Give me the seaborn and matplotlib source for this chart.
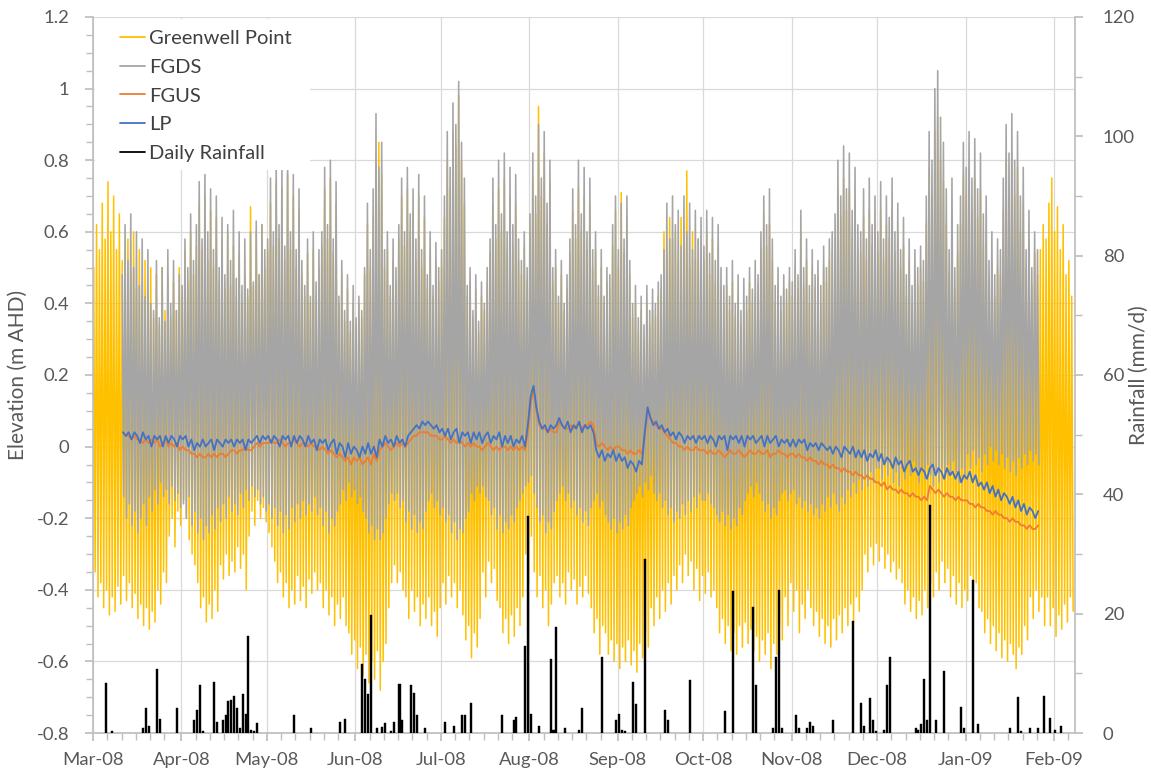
import numpy as np
import pandas as pd
import matplotlib
matplotlib.use("Agg")
import matplotlib.pyplot as plt
import matplotlib.dates as mdates
from matplotlib.ticker import MultipleLocator, FuncFormatter
from matplotlib.lines import Line2D
from matplotlib.patches import Rectangle
import seaborn as sns

sns.set_theme(style="white")
plt.rcParams["font.family"] = ["Lato", "DejaVu Sans"]

# ---------------- data ----------------
START = "2008-03-01"
months = ["2008-03-01", "2008-04-01", "2008-05-01", "2008-06-01", "2008-07-01", "2008-08-01",
          "2008-09-01", "2008-10-01", "2008-11-01", "2008-12-01", "2009-01-01", "2009-02-01"]

# Greenwell Point tide: daily high / low water (cm AHD), one list per month
gp_hi = [
    [50,62,55,68,58,74,60,70,55,65,52,45,58,48,60,44,55,42,52,40,50,36,48,34,50,38,48,36,46,38,50],
    [42,55,46,60,48,56,68,55,70,52,66,50,64,46,58,44,60,45,56,42,54,40,48,42,67,45,60,48,62,50],
    [55,68,56,74,58,72,52,76,55,70,50,66,48,42,54,40,55,42,50,56,72,58,75,54,68,40,48,35,44,32,40],
    [34,40,36,48,62,50,64,72,85,76,50,55,42,52,46,58,70,56,72,60,66,52,70,50,64,44,55,42,52,46],
    [50,64,80,72,88,84,98,80,68,42,46,36,44,32,42,38,46,54,68,58,72,60,75,55,70,56,68,52,48,56,46],
    [60,75,65,95,70,82,62,74,46,50,40,48,38,44,54,66,58,72,60,70,55,68,50,55,42,50,40,46,44,56,66],
    [50,71,54,64,48,36,40,32,38,30,40,34,38,36,42,44,60,54,64,58,60,52,64,55,77,50,60,52,58,50],
    [52,60,48,58,46,56,44,40,45,38,46,36,42,34,40,38,46,40,42,45,55,65,56,62,52,40,45,38,44,40,46],
    [42,50,44,60,45,52,40,50,44,48,40,50,46,52,55,58,72,64,75,66,72,58,68,55,54,64,52,66,56,62],
    [54,66,52,62,58,66,54,60,50,56,42,52,40,48,45,50,46,62,78,70,88,92,80,74,62,48,66,44,54,62,76],
    [70,78,66,75,64,72,56,60,46,52,42,50,48,66,80,72,82,70,78,60,68,50,56,45,54,48,55,62,58,68,75],
    [60,67,55,62,48,52,42],
]
gp_lo = [
    [-35,-42,-38,-45,-40,-47,-42,-46,-39,-44,-36,-43,-38,-45,-41,-48,-44,-50,-45,-51,-46,-49,-40,-44,-35,-38,-25,-20,-28,-18,-22],
    [-15,-20,-26,-30,-33,-38,-45,-42,-49,-44,-48,-40,-46,-33,-37,-30,-36,-32,-35,-28,-34,-30,-40,-25,-18,-22,-15,-20,-17,-21],
    [-24,-28,-32,-38,-35,-42,-38,-45,-40,-44,-36,-43,-39,-45,-37,-41,-35,-40,-38,-45,-40,-47,-42,-50,-44,-48,-42,-50,-52,-58,-54],
    [-62,-56,-64,-58,-66,-60,-65,-57,-68,-60,-55,-45,-38,-33,-38,-35,-40,-42,-48,-40,-46,-42,-50,-44,-48,-42,-50,-46,-53,-45],
    [-38,-44,-36,-42,-38,-45,-40,-47,-54,-50,-59,-52,-56,-48,-35,-42,-32,-38,-34,-43,-45,-52,-48,-55,-47,-53,-45,-50,-42,-30,-38],
    [-25,-35,-42,-36,-45,-40,-50,-44,-38,-36,-42,-38,-44,-35,-40,-37,-44,-39,-42,-36,-41,-45,-52,-48,-58,-50,-52,-58,-54,-60,-55],
    [-62,-56,-60,-54,-61,-57,-63,-55,-59,-52,-56,-45,-50,-42,-48,-40,-46,-38,-44,-36,-40,-33,-38,-30,-36,-32,-40,-34,-43,-36],
    [-41,-35,-42,-40,-45,-52,-48,-55,-50,-57,-52,-58,-50,-56,-49,-55,-51,-57,-53,-60,-54,-58,-52,-62,-55,-58,-50,-54,-42,-50,-38],
    [-46,-40,-52,-44,-48,-40,-45,-50,-46,-53,-48,-55,-50,-56,-48,-54,-47,-52,-45,-50,-44,-49,-42,-46,-40,-30,-35,-28,-33,-27],
    [-32,-28,-34,-30,-35,-32,-37,-34,-38,-44,-40,-46,-42,-48,-43,-47,-40,-45,-38,-42,-35,-40,-32,-38,-34,-42,-36,-44,-38,-45,-40],
    [-43,-36,-41,-38,-45,-46,-52,-48,-55,-50,-57,-52,-59,-54,-60,-55,-58,-62,-56,-58,-50,-54,-42,-48,-40,-46,-42,-50,-42,-50,-45],
    [-53,-47,-51,-44,-49,-42,-46],
]

# FGDS / FGUS / LP records (start 11 Mar 2008), one list per month
site_starts = ["2008-03-11", "2008-04-01", "2008-05-01", "2008-06-01", "2008-07-01", "2008-08-01",
               "2008-09-01", "2008-10-01", "2008-11-01", "2008-12-01", "2009-01-01"]
fgds_hi = [
    [48,62,52,65,50,60,45,58,42,55,40,38,52,36,50,35,55,40,52,38,48],
    [45,58,50,65,52,62,74,58,76,60,72,55,70,50,64,48,62,52,66,47,60,45,58,44,60,46,63,48,62,55],
    [58,75,60,80,62,78,56,82,60,76,55,72,52,45,58,42,60,46,55,60,78,62,80,58,74,42,52,38,48,35,45],
    [36,42,38,50,68,55,72,93,78,85,55,60,45,58,50,62,75,60,78,65,72,58,76,55,70,48,60,45,57,50],
    [55,70,88,78,96,90,102,85,75,45,50,38,48,35,46,40,50,58,75,62,80,65,82,60,78,62,76,58,52,60,50],
    [65,82,70,90,75,88,68,80,50,55,42,52,40,48,58,72,62,80,65,78,60,75,55,60,45,55,42,50,48,62,70],
    [55,68,58,70,52,40,45,36,42,34,45,38,44,40,46,48,55,68,58,70,62,66,56,70,60,68,55,66,58,64],
    [56,66,54,64,52,62,50,45,50,42,52,40,48,38,47,42,50,44,52,48,60,70,62,72,58,45,50,42,48,44,50],
    [46,55,48,66,50,58,45,55,48,52,45,56,50,58,60,65,80,70,84,72,82,66,78,62,60,72,58,75,62,70],
    [60,74,58,70,64,75,60,68,55,64,48,58,45,55,50,56,52,70,88,80,100,105,92,85,72,55,75,50,62,70,85],
    [78,88,75,86,72,82,65,70,52,60,48,58,55,75,90,82,93,80,88,70,78,55,66,50,60,55],
]
fgds_lo = [
    [-14,-20,-16,-22,-18,-24,-20,-16,-22,-14,-18,-12,-16,-10,-14,-12,-16,-11,-15,-13,-17],
    [-16,-20,-14,-22,-18,-24,-20,-26,-22,-24,-19,-23,-17,-21,-16,-20,-14,-18,-16,-19,-13,-17,-12,-15,-11,-14,-12,-16,-14,-18],
    [-16,-20,-17,-22,-18,-24,-19,-23,-17,-21,-16,-20,-15,-19,-16,-18,-14,-19,-17,-22,-18,-24,-20,-22,-18,-16,-12,-15,-10,-14,-12],
    [-16,-14,-18,-20,-24,-22,-26,-23,-26,-24,-20,-16,-13,-15,-13,-17,-15,-21,-18,-23,-19,-24,-21,-23,-18,-15,-13,-17,-15,-19],
    [-17,-21,-19,-24,-21,-26,-23,-24,-20,-18,-13,-15,-11,-13,-11,-14,-15,-19,-17,-23,-19,-24,-21,-23,-19,-21,-17,-15,-13,-11,-10],
    [-8,-13,-17,-21,-19,-24,-21,-23,-18,-15,-13,-11,-15,-13,-17,-15,-19,-17,-21,-18,-22,-17,-15,-13,-17,-15,-19,-21,-23,-20,-24],
    [-21,-23,-19,-22,-17,-15,-13,-11,-14,-10,-12,-8,-13,-15,-13,-17,-15,-19,-17,-21,-18,-20,-16,-19,-15,-18,-14,-17,-13,-15],
    [-15,-13,-16,-17,-19,-21,-18,-22,-19,-23,-20,-22,-17,-19,-15,-13,-11,-14,-10,-13,-15,-18,-16,-20,-17,-19,-15,-13,-12,-15,-13],
    [-12,-16,-14,-17,-15,-18,-16,-19,-17,-20,-16,-18,-14,-17,-13,-16,-18,-14,-16,-12,-14,-10,-13,-9,-12,-8,-11,-7,-10,-6],
    [-6,-9,-4,-8,-5,-10,-7,-11,-6,-9,-5,-8,-4,-7,-10,-6,-9,-5,-8,-11,-7,-10,-6,-9,-5,-8,-4,-7,-10,-6,-8],
    [-2,-6,-1,-5,-3,-7,-2,-5,0,-4,-1,-5,-2,-6,-3,-7,-4,-8,-3,-6,-2,-5,-1,-4,-2,-5],
]
# daily water levels (cm AHD)
fgus = [
    [4,3,3,2,3,2,2,1,2,1,2,1,2,0,1,2,0,1,0,1,-1],
    [0,-1,-1,-2,-2,-3,-2,-3,-3,-2,-3,-2,-3,-2,-2,-3,-2,-1,-1,-2,-1,-1,0,-1,-1,0,1,0,1,1],
    [1,2,1,1,2,1,0,1,1,2,1,0,1,1,0,1,0,0,-1,0,-1,-2,-1,-2,-3,-2,-3,-4,-3,-5,-3],
    [-4,-3,-5,-4,-3,-5,-2,-4,-1,0,1,0,-1,0,1,0,1,0,1,2,3,3,4,4,4,4,3,3,3,2],
    [2,3,2,1,2,1,2,1,0,1,0,1,0,0,-1,0,1,0,-1,0,-1,0,0,-1,0,-1,0,-1,0,-1,4],
    [12,16,10,6,5,5,4,5,4,4,7,6,5,5,6,5,6,6,5,6,6,7,6,1,0,1,0,-1,0,-1,0],
    [0,-1,-1,-2,-1,-2,-2,-1,-2,3,10,8,7,6,5,5,4,3,2,1,1,0,0,-1,0,-1,-1,0,-1,-1],
    [-1,-2,-1,-2,-2,-1,-2,-3,-2,-1,-2,-2,-1,-2,-3,-2,-1,-2,-2,-1,-2,-2,-1,-3,-2,-2,-1,-2,-2,-3,-2],
    [-2,-3,-2,-3,-3,-4,-3,-4,-4,-5,-4,-5,-5,-6,-5,-6,-6,-7,-6,-7,-7,-8,-7,-8,-8,-9,-8,-9,-9,-10],
    [-10,-11,-10,-12,-11,-12,-12,-13,-12,-13,-13,-14,-13,-14,-14,-15,-14,-15,-11,-12,-13,-12,-13,-14,-13,-14,-14,-15,-14,-15,-15],
    [-15,-16,-16,-17,-16,-17,-17,-18,-18,-19,-18,-19,-19,-20,-20,-21,-20,-21,-21,-22,-22,-23,-22,-23,-23,-22],
]
lp = [
    [4,3,4,2,4,3,1,4,2,3,0,3,2,3,0,3,1,3,2,0,3],
    [2,3,0,2,-1,1,0,2,0,1,2,-1,2,1,0,2,1,2,0,2,1,2,-1,2,1,2,3,1,3,2],
    [3,1,3,2,0,3,2,3,0,3,1,3,2,0,3,1,2,-1,2,1,2,-1,1,2,-2,1,0,-3,1,-2,0],
    [-1,-3,0,-2,1,-2,0,-3,2,0,3,1,2,0,3,1,2,0,3,4,5,6,5,7,6,7,6,5,6,4],
    [5,3,5,2,4,5,1,4,3,4,1,4,2,4,1,3,4,1,3,2,4,0,3,1,3,0,2,1,3,0,6],
    [14,17,11,7,5,6,4,6,5,6,8,6,5,7,4,6,5,7,4,6,5,6,4,-1,-3,-1,-4,-2,-3,-1,-4],
    [-2,-4,-3,-6,-4,-5,-7,-4,-5,4,11,8,6,7,5,6,4,5,3,4,2,4,3,1,3,2,3,1,3,2],
    [3,1,3,2,0,3,2,3,-1,3,2,3,1,3,0,3,2,3,1,2,3,0,3,1,2,3,0,2,1,2,0],
    [2,0,2,1,2,-1,1,0,1,-1,1,0,-1,0,-2,0,-1,-3,0,-1,-2,0,-3,-1,-3,-1,-4,-2,-3,-1],
    [-4,-2,-5,-3,-4,-6,-3,-5,-4,-7,-5,-4,-7,-6,-8,-6,-7,-9,-6,-5,-8,-6,-7,-9,-6,-8,-7,-9,-7,-10,-8],
    [-9,-7,-10,-8,-11,-10,-12,-10,-13,-11,-14,-12,-15,-13,-14,-16,-14,-17,-15,-18,-16,-19,-17,-18,-20,-18],
]

# daily rainfall: day number after 1 Mar 2008 and depth (mm)
rain_day = [4,6,17,18,19,22,23,29,35,36,37,38,42,43,45,46,47,48,49,50,51,52,53,54,55,56,57,70,76,86,88,
            94,95,96,97,99,101,102,104,105,107,108,111,112,113,116,123,126,129,130,132,143,147,148,151,152,
            153,156,160,161,162,165,170,171,178,183,184,185,186,189,190,193,200,201,209,221,224,231,232,
            238,239,240,241,246,247,250,251,252,259,266,269,270,272,273,274,277,278,279,288,289,290,291,
            292,293,295,298,304,305,308,310,321,324,325,328,331,333,335,337,339]
rain_mm = [8.3,0.3,0.8,4.2,1.1,10.8,2.3,4.2,2.2,3.9,8.1,0.3,8.5,1.9,2.2,3.0,5.4,5.5,6.2,4.2,0.9,6.5,3.2,
           16.3,0.5,0.3,1.7,3.0,0.8,1.8,2.3,11.5,9.0,6.5,19.8,0.8,1.0,1.7,0.3,1.8,8.2,2.1,8.0,6.7,3.0,0.8,
           1.8,1.1,3.0,3.1,5.1,3.0,2.2,2.6,14.6,36.4,3.2,1.1,12.4,0.5,17.7,0.8,0.5,4.2,12.7,2.1,3.2,0.5,
           0.3,8.5,4.9,29.1,3.9,2.2,8.8,3.7,23.8,21.2,8.1,0.9,12.7,23.9,0.8,3.1,0.8,0.8,1.8,1.2,2.1,18.8,
           5.1,1.1,5.8,2.1,0.3,0.5,8.0,12.7,0.9,0.5,1.5,9.0,2.1,38.2,2.1,10.4,4.4,0.9,25.6,1.5,0.8,6.0,
           0.3,0.8,0.8,6.2,2.5,0.5,1.2]

series_names = ["Greenwell Point", "FGDS", "FGUS", "LP", "Daily Rainfall"]
colors = ["#FFC000", "#A5A5A5", "#ED7D31", "#4472C4", "#000000"]


# ---------------- frames ----------------
def tide_frame(starts, hi, lo):
    t, v = [], []
    for s, h, l in zip(starts, hi, lo):
        base = pd.Timestamp(s)
        for i in range(min(len(h), len(l))):
            t += [base + pd.Timedelta(hours=24 * i + 6), base + pd.Timedelta(hours=24 * i + 18)]
            v += [h[i] / 100.0, l[i] / 100.0]
    return pd.DataFrame({"t": t, "v": v})


def level_frame(starts, vals):
    t, v = [], []
    for s, vv in zip(starts, vals):
        base = pd.Timestamp(s)
        for i, x in enumerate(vv):
            t.append(base + pd.Timedelta(hours=24 * i + 12))
            v.append(x / 100.0)
    return pd.DataFrame({"t": t, "v": v})


df_gp = tide_frame(months, gp_hi, gp_lo)
df_fgds = tide_frame(site_starts, fgds_hi, fgds_lo)
df_fgus = level_frame(site_starts, fgus)
df_lp = level_frame(site_starts, lp)
df_rain = pd.DataFrame({"t": pd.Timestamp(START) + pd.to_timedelta(rain_day, unit="D") + pd.Timedelta(hours=12),
                        "mm": rain_mm})

# ---------------- figure ----------------
fig = plt.figure(figsize=(11.51, 7.76), dpi=100)
ax = fig.add_axes([93 / 1151, 1 - 733 / 776, 982 / 1151, 716 / 776])
ax2 = ax.twinx()

sns.lineplot(data=df_gp, x="t", y="v", ax=ax, color=colors[0], lw=1.1, sort=False, estimator=None, zorder=2)
sns.lineplot(data=df_fgds, x="t", y="v", ax=ax, color=colors[1], lw=1.15, sort=False, estimator=None, zorder=3)
sns.lineplot(data=df_fgus, x="t", y="v", ax=ax, color=colors[2], lw=1.3, sort=False, estimator=None, zorder=4)
sns.lineplot(data=df_lp, x="t", y="v", ax=ax, color=colors[3], lw=1.3, sort=False, estimator=None, zorder=5)

ax2.bar(df_rain["t"], df_rain["mm"], width=0.72, color="black", edgecolor="black", linewidth=0.3, zorder=3)

x0 = pd.Timestamp(START)
ax.set_xlim(x0, x0 + pd.Timedelta(days=344.4))
ax.set_ylim(-0.8, 1.2)
ax2.set_ylim(0, 120)

tick_c = "#BFBFBF"
lab_c = "#595959"
ax.xaxis.set_major_locator(mdates.MonthLocator())
ax.xaxis.set_minor_locator(mdates.DayLocator(bymonthday=[6, 11, 16, 21, 26]))
ax.xaxis.set_major_formatter(mdates.DateFormatter("%b-%y"))
ax.yaxis.set_major_locator(MultipleLocator(0.2))
ax.yaxis.set_minor_locator(MultipleLocator(0.05))


def fmt(v, pos):
    v = round(v, 3)
    if abs(v) < 1e-9:
        return "0"
    return f"{v:g}"


ax.yaxis.set_major_formatter(FuncFormatter(fmt))
ax2.yaxis.set_major_locator(MultipleLocator(20))
ax2.yaxis.set_minor_locator(MultipleLocator(10))

ax.grid(True, which="major", axis="both", color="#D9D9D9", lw=0.9)
ax.set_axisbelow(True)
ax2.grid(False)

for sp in ["top", "right"]:
    ax.spines[sp].set_visible(False)
for sp in ["top", "left", "bottom"]:
    ax2.spines[sp].set_visible(False)
ax.spines["left"].set_color(tick_c)
ax.spines["bottom"].set_color(tick_c)
ax2.spines["right"].set_color(tick_c)

ax.tick_params(axis="x", which="major", length=6, color=tick_c, labelsize=13.3, labelcolor=lab_c, pad=8, bottom=True)
ax.tick_params(axis="x", which="minor", length=5, color=tick_c, bottom=True)
ax.tick_params(axis="y", which="major", length=6, color=tick_c, labelsize=13.3, labelcolor=lab_c, pad=11, left=True)
ax.tick_params(axis="y", which="minor", length=5, color=tick_c, left=True)
ax2.tick_params(axis="y", which="major", length=6, color=tick_c, labelsize=13.3, labelcolor=lab_c, pad=14, right=True)
ax2.tick_params(axis="y", which="minor", length=5, color=tick_c, right=True)

ax.set_xlabel("")
ax.set_ylabel("Elevation (m AHD)", fontsize=15, color=lab_c)
ax2.set_ylabel("Rainfall (mm/d)", fontsize=15, color=lab_c, rotation=90)
ax.yaxis.set_label_coords(-0.066, 0.5)
ax2.yaxis.set_label_coords(1.055, 0.5)

# legend area (white box) and legend
ax2.add_patch(Rectangle((0.002, 0.786), 0.219, 0.211, transform=ax2.transAxes,
                        facecolor="white", edgecolor="none", zorder=6))
handles = [Line2D([0], [0], color=c, lw=1.3) for c in colors]
leg = ax2.legend(handles, series_names, loc="upper left", bbox_to_anchor=(0.0275, 0.982),
                 frameon=False, fontsize=14.5, handlelength=1.25, handletextpad=0.2,
                 labelspacing=0.58, borderpad=0, borderaxespad=0)
leg.set_zorder(7)
for txt in leg.get_texts():
    txt.set_color("#404040")

fig.savefig("out.png", dpi=100)
